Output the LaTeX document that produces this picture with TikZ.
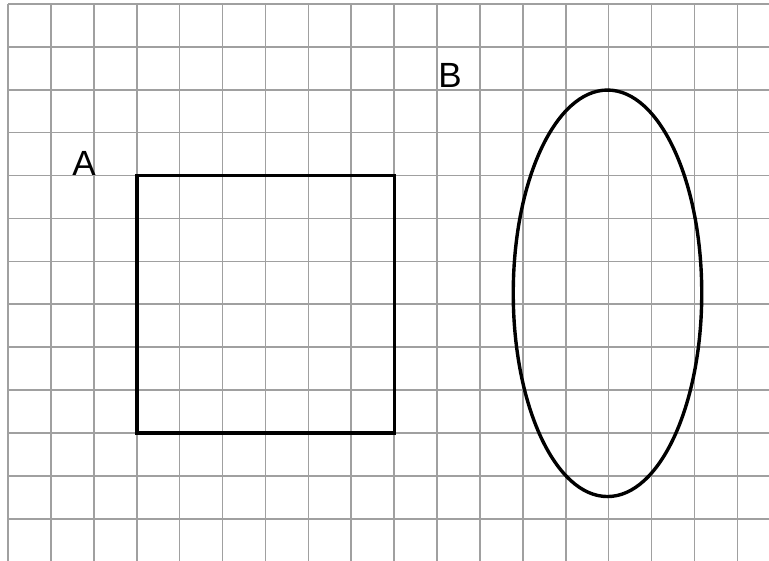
\documentclass[tikz,border=0pt]{standalone}
\usepackage{fontspec}
\setmainfont{Liberation Sans}
\usetikzlibrary{shapes.geometric}
\tikzset{
  gridline/.style={draw={rgb,255:red,160;green,160;blue,160}, line width=1.6pt},
  shapeline/.style={draw=black, line width=3.4pt},
  lbl/.style={font=\fontsize{35}{40}\selectfont, anchor=base, inner sep=0pt}
}
\begin{document}
\begin{tikzpicture}[x=1pt,y=-1pt]
\useasboundingbox (0,0) rectangle (769,561);
\fill[white] (0,0) rectangle (769,561);
\foreach \k in {0,...,17} {
  \draw[gridline] ({8+42.9*\k},4) -- ({8+42.9*\k},561);
}
\foreach \k in {0,...,12} {
  \draw[gridline] (8,{4+42.9*\k}) -- (769,{4+42.9*\k});
}
\node[shapeline, rectangle, minimum width=257.4pt, minimum height=257.4pt, inner sep=0pt] (sq) at (265.7,304.3) {};
\node[shapeline, ellipse, minimum width=188.5pt, minimum height=406.5pt, inner sep=0pt] (el) at (607.5,293.3) {};
\node[lbl] (A) at (84,176) {A};
\node[lbl] (B) at (450,88) {B};
\end{tikzpicture}
\end{document}
